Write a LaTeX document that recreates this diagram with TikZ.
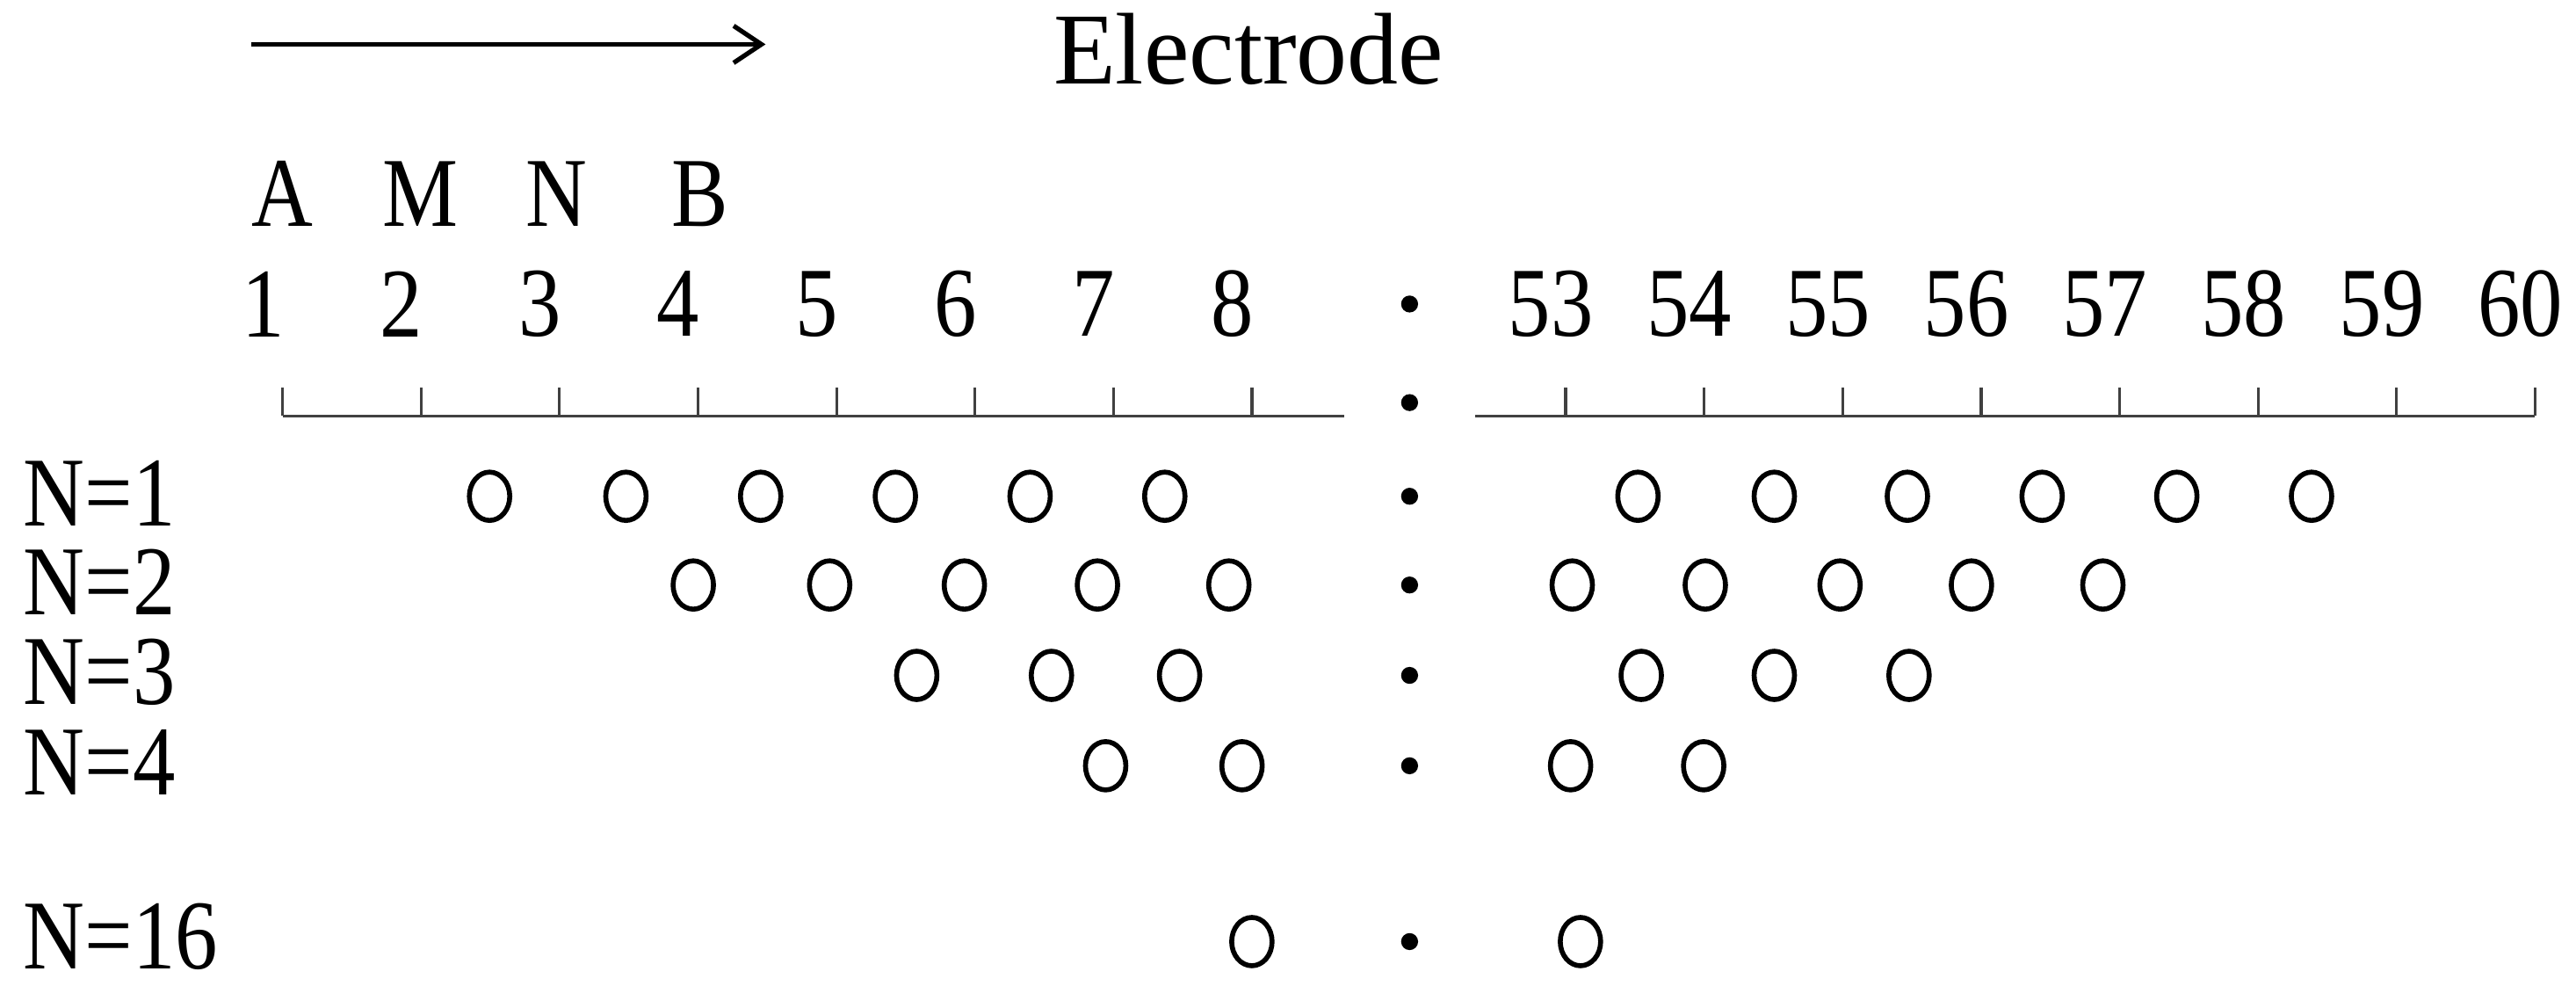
\documentclass[tikz,border=0pt]{standalone}
\usepackage{fontspec}
\setmainfont{Liberation Serif}
\newfontfamily\narrowf{Liberation Serif}[FakeStretch=0.86]
\usetikzlibrary{arrows.meta,shapes.geometric}
\begin{document}
\begin{tikzpicture}[x=0.0187cm,y=-0.0187cm,
  lab/.style={font=\narrowf\fontsize{32}{32}\selectfont,inner sep=0pt},
  ax/.style={line width=0.9pt,black!75},
  el/.style={draw,line width=1.6pt,ellipse,minimum width=0.46cm,minimum height=0.55cm,inner sep=0pt},
  pt/.style={circle,fill,inner sep=0pt,minimum size=5.5pt}]
\useasboundingbox (0,0) rectangle (1568,600);
% arrow and title
\coordinate (a0) at (153,27); \coordinate (a1) at (466,27);
\draw[line width=1.5pt,-{Straight Barb[length=9pt,width=12pt]}] (a0) -- (a1);
\node[font=\fontsize{33}{33}\selectfont,inner sep=0pt] (el) at (760,30) {Electrode};
% electrode letters
\foreach \t/\x in {A/172,M/256,N/339,B/426}
  \node[lab] (L\t) at (\x,118) {\t};
% numbers
\foreach \i in {1,...,8}
  \node[lab] (n\i) at ({172+84.3*(\i-1)-12},185) {\i};
\foreach \j in {53,...,60}
  \node[lab] (n\j) at ({953+84.3*(\j-53)-9},185) {\j};
% axes
\coordinate (l0) at (172,253); \coordinate (l1) at (818,253);
\coordinate (r0) at (898,253); \coordinate (r1) at (1543,253);
\draw[ax] (l0) -- (l1);
\draw[ax] (r0) -- (r1);
\foreach \i in {1,...,8} \draw[ax] ({172+84.3*(\i-1)},253) -- ++(0,-17);
\foreach \j in {53,...,60} \draw[ax] ({953+84.3*(\j-53)},253) -- ++(0,-17);
% dots
\foreach \y [count=\k] in {185,245,302,356,411,466,573}
  \node[pt] (d\k) at (858,\y) {};
% row labels
\foreach \t/\y [count=\k] in {1/300,2/354,3/409,4/464,16/570}
  \node[lab,anchor=west] (r\k) at (14,\y) {N=\t};
% circles
\foreach \x [count=\k] in {298,381,463,545,627,709,997,1080,1161,1243,1325,1407}
  \node[el] (c1-\k) at (\x,302) {};
\foreach \x [count=\k] in {422,505,587,668,748,957,1038,1120,1200,1280}
  \node[el] (c2-\k) at (\x,356) {};
\foreach \x [count=\k] in {558,640,718,999,1080,1162}
  \node[el] (c3-\k) at (\x,411) {};
\foreach \x [count=\k] in {673,756,956,1037}
  \node[el] (c4-\k) at (\x,466) {};
\foreach \x [count=\k] in {762,962}
  \node[el] (c5-\k) at (\x,573) {};
\end{tikzpicture}
\end{document}
